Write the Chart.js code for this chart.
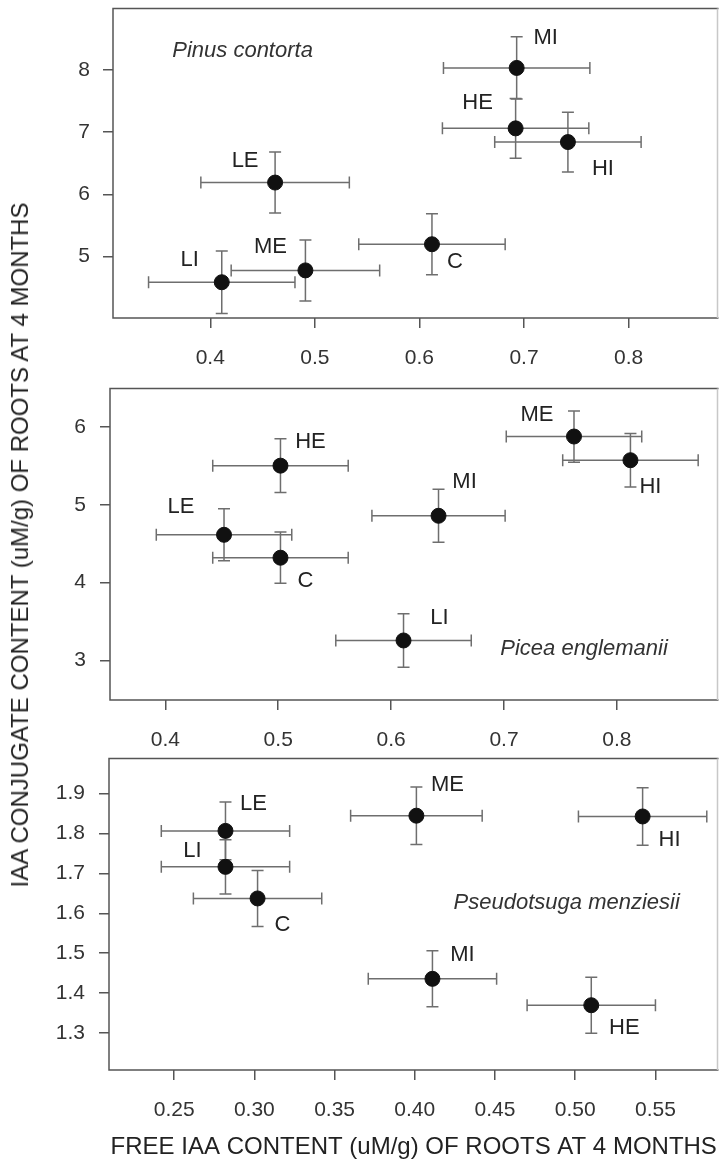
<!DOCTYPE html>
<html>
<head>
<meta charset="utf-8">
<title>IAA conjugate vs free IAA</title>
<script src="https://cdn.jsdelivr.net/npm/chart.js@4.4.1/dist/chart.umd.min.js"></script>
<style>
  html, body { margin: 0; padding: 0; background: #fff; }
  body { width: 727px; height: 1167px; position: relative; overflow: hidden; font-family: "Liberation Sans", Arial, sans-serif; }
  canvas { position: absolute; left: 0; }
  #yTitle {
    position: absolute; left: 20px; top: 545px;
    transform: translate(-50%, -50%) rotate(-90deg);
    white-space: nowrap; font-size: 24px; color: #222;
  }
</style>
</head>
<body>
<canvas id="pinus" width="727" height="380" style="top:0px"></canvas>
<canvas id="picea" width="727" height="370" style="top:380px"></canvas>
<canvas id="pseudo" width="727" height="417" style="top:750px"></canvas>
<div id="yTitle">IAA CONJUGATE CONTENT (uM/g) OF ROOTS AT 4 MONTHS</div>
<script>
// values: free IAA (x), conjugate IAA (y), +/- error

// Pinus contorta
const groupsPinus   = ['MI', 'HE', 'HI', 'LE', 'C', 'ME', 'LI'];
const freePinus     = [0.693, 0.692, 0.742, 0.462, 0.612, 0.491, 0.411];
const conjPinus     = [8.03, 7.06, 6.84, 6.19, 5.20, 4.78, 4.59];
const freeErrPinus  = [0.070, 0.070, 0.070, 0.071, 0.070, 0.071, 0.070];
const conjErrPinus  = [0.50, 0.48, 0.48, 0.49, 0.49, 0.49, 0.50];
const xTicksPinus   = [0.4, 0.5, 0.6, 0.7, 0.8];
const yTicksPinus   = [5, 6, 7, 8];
const xRangePinus   = [0.307, 0.886];
const yRangePinus   = [4.016, 8.984];

// Picea englemanii
const groupsPicea   = ['ME', 'HI', 'HE', 'MI', 'LE', 'C', 'LI'];
const freePicea     = [0.762, 0.812, 0.502, 0.642, 0.452, 0.502, 0.611];
const conjPicea     = [5.88, 5.575, 5.505, 4.86, 4.615, 4.32, 3.255];
const freeErrPicea  = [0.060, 0.060, 0.060, 0.059, 0.060, 0.060, 0.060];
const conjErrPicea  = [0.33, 0.345, 0.345, 0.34, 0.335, 0.33, 0.345];
const xTicksPicea   = [0.4, 0.5, 0.6, 0.7, 0.8];
const yTicksPicea   = [3, 4, 5, 6];
const xRangePicea   = [0.351, 0.890];
const yRangePicea   = [2.489, 6.498];

// Pseudotsuga menziesii
const groupsPseudo  = ['LE', 'LI', 'C', 'ME', 'HI', 'MI', 'HE'];
const freePseudo    = [0.282, 0.282, 0.302, 0.401, 0.542, 0.411, 0.510];
const conjPseudo    = [1.806, 1.716, 1.637, 1.844, 1.842, 1.436, 1.370];
const freeErrPseudo = [0.040, 0.040, 0.040, 0.041, 0.040, 0.040, 0.040];
const conjErrPseudo = [0.072, 0.068, 0.070, 0.072, 0.072, 0.070, 0.070];
const xTicksPseudo  = [0.25, 0.30, 0.35, 0.40, 0.45, 0.50, 0.55];
const yTicksPseudo  = [1.3, 1.4, 1.5, 1.6, 1.7, 1.8, 1.9];
const xRangePseudo  = [0.2094, 0.5893];
const yRangePseudo  = [1.208, 1.987];

// styling
const FONT = '"Liberation Sans", Arial, sans-serif';
const TEXT = '#222';
const AXIS = '#555';
const ERR = '#6e6e6e';
const CAP = 6;

// where each group label sits relative to its point (px)
const labelOffsetPinus  = [[29, -30], [-38, -25], [35, 27], [-30, -22], [23, 18], [-35, -23], [-32, -22]];
const labelOffsetPicea  = [[-37, -22], [20, 27], [30, -24], [26, -34], [-43, -28], [25, 23], [36, -23]];
const labelOffsetPseudo = [[28, -27], [-33, -16], [25, 26], [31, -31], [27, 23], [30, -24], [33, 23]];

const panels = [
  { id: 'pinus', species: 'Pinus contorta', speciesAt: [0.214, 0.138],
    groups: groupsPinus, x: freePinus, y: conjPinus, xErr: freeErrPinus, yErr: conjErrPinus,
    xTicks: xTicksPinus, yTicks: yTicksPinus, xRange: xRangePinus, yRange: yRangePinus,
    xDigits: 1, yDigits: 0, offsets: labelOffsetPinus,
    padTop: 5, yAxisW: 113, xAxisH: 62, yPad: 13 },
  { id: 'picea', species: 'Picea englemanii', speciesAt: [0.779, 0.835],
    groups: groupsPicea, x: freePicea, y: conjPicea, xErr: freeErrPicea, yErr: conjErrPicea,
    xTicks: xTicksPicea, yTicks: yTicksPicea, xRange: xRangePicea, yRange: yRangePicea,
    xDigits: 1, yDigits: 0, offsets: labelOffsetPicea,
    padTop: 6, yAxisW: 110, xAxisH: 50, yPad: 14 },
  { id: 'pseudo', species: 'Pseudotsuga menziesii', speciesAt: [0.751, 0.462],
    groups: groupsPseudo, x: freePseudo, y: conjPseudo, xErr: freeErrPseudo, yErr: conjErrPseudo,
    xTicks: xTicksPseudo, yTicks: yTicksPseudo, xRange: xRangePseudo, yRange: yRangePseudo,
    xDigits: 2, yDigits: 1, offsets: labelOffsetPseudo,
    padTop: 7, yAxisW: 109, xAxisH: 97, yPad: 14,
    xTitle: 'FREE IAA CONTENT (uM/g) OF ROOTS AT 4 MONTHS' }
];

// error bars under the points, group labels and species name over them, frame last
function overlay(p){
  return {
    id: 'overlay_' + p.id,
    beforeDatasetsDraw(chart){
      const {ctx, scales: {x, y}} = chart;
      ctx.save();
      ctx.strokeStyle = ERR;
      ctx.lineWidth = 1.5;
      p.x.forEach((xv, i) => {
        const yv = p.y[i];
        const cx = x.getPixelForValue(xv), cy = y.getPixelForValue(yv);
        const xl = x.getPixelForValue(xv - p.xErr[i]), xr = x.getPixelForValue(xv + p.xErr[i]);
        const yt = y.getPixelForValue(yv + p.yErr[i]), yb = y.getPixelForValue(yv - p.yErr[i]);
        ctx.beginPath();
        ctx.moveTo(xl, cy); ctx.lineTo(xr, cy);
        ctx.moveTo(xl, cy - CAP); ctx.lineTo(xl, cy + CAP);
        ctx.moveTo(xr, cy - CAP); ctx.lineTo(xr, cy + CAP);
        ctx.moveTo(cx, yt); ctx.lineTo(cx, yb);
        ctx.moveTo(cx - CAP, yt); ctx.lineTo(cx + CAP, yt);
        ctx.moveTo(cx - CAP, yb); ctx.lineTo(cx + CAP, yb);
        ctx.stroke();
      });
      ctx.restore();
    },
    afterDatasetsDraw(chart){
      const {ctx, chartArea: a, scales: {x, y}} = chart;
      ctx.save();
      ctx.fillStyle = TEXT;
      ctx.textAlign = 'center';
      ctx.textBaseline = 'middle';
      ctx.font = '22px ' + FONT;
      p.groups.forEach((g, i) => {
        const [dx, dy] = p.offsets[i];
        ctx.fillText(g, x.getPixelForValue(p.x[i]) + dx, y.getPixelForValue(p.y[i]) + dy);
      });
      ctx.font = 'italic 22px ' + FONT;
      ctx.fillStyle = '#333';
      ctx.fillText(p.species, a.left + p.speciesAt[0] * (a.right - a.left), a.top + p.speciesAt[1] * (a.bottom - a.top));
      ctx.restore();
    },
    afterDraw(chart){
      const {ctx, chartArea: a} = chart;
      ctx.save();
      ctx.lineWidth = 1.5;
      ctx.strokeStyle = AXIS;
      ctx.beginPath();
      ctx.moveTo(a.right, a.top); ctx.lineTo(a.left, a.top);
      ctx.lineTo(a.left, a.bottom); ctx.lineTo(a.right, a.bottom);
      ctx.stroke();
      ctx.strokeStyle = '#c8c8c8';
      ctx.beginPath();
      ctx.moveTo(a.right - 1, a.top); ctx.lineTo(a.right - 1, a.bottom);
      ctx.stroke();
      ctx.restore();
    }
  };
}

function zeroPad(s){
  s.paddingLeft = 0; s.paddingRight = 0; s.paddingTop = 0; s.paddingBottom = 0;
}

function buildPanel(p){
  const tickFont = {family: FONT, size: 21};
  return new Chart(document.getElementById(p.id), {
    type: 'scatter',
    data: {
      datasets: [{
        data: p.x.map((v, i) => ({x: v, y: p.y[i]})),
        pointRadius: 7.5, pointHoverRadius: 7.5,
        pointBackgroundColor: '#111', pointBorderColor: '#111', pointBorderWidth: 1
      }]
    },
    options: {
      responsive: false, animation: false, devicePixelRatio: 1, events: [],
      layout: {padding: {top: p.padTop, left: 0, right: 0, bottom: 0}},
      plugins: {legend: {display: false}, tooltip: {enabled: false}},
      scales: {
        x: {
          type: 'linear', min: p.xRange[0], max: p.xRange[1],
          afterBuildTicks: s => { s.ticks = p.xTicks.map(v => ({value: v})); },
          afterFit: s => { s.height = p.xAxisH; zeroPad(s); },
          grid: {drawOnChartArea: false, tickLength: 10, color: AXIS, lineWidth: 1.5},
          border: {display: false},
          ticks: {padding: 17.5, color: '#333', font: tickFont, autoSkip: false, maxRotation: 0,
                  callback: v => Number(v).toFixed(p.xDigits)},
          title: p.xTitle
            ? {display: true, text: p.xTitle, color: TEXT, font: {family: FONT, size: 24}, padding: {top: 0, bottom: 5}}
            : {display: false}
        },
        y: {
          type: 'linear', min: p.yRange[0], max: p.yRange[1],
          afterBuildTicks: s => { s.ticks = p.yTicks.map(v => ({value: v})); },
          afterFit: s => { s.width = p.yAxisW; zeroPad(s); },
          grid: {drawOnChartArea: false, tickLength: 10, color: AXIS, lineWidth: 1.5},
          border: {display: false},
          ticks: {padding: p.yPad, color: '#333', font: tickFont, autoSkip: false,
                  callback: v => Number(v).toFixed(p.yDigits)}
        }
      }
    },
    plugins: [overlay(p)]
  });
}

panels.forEach(buildPanel);
</script>
</body>
</html>
